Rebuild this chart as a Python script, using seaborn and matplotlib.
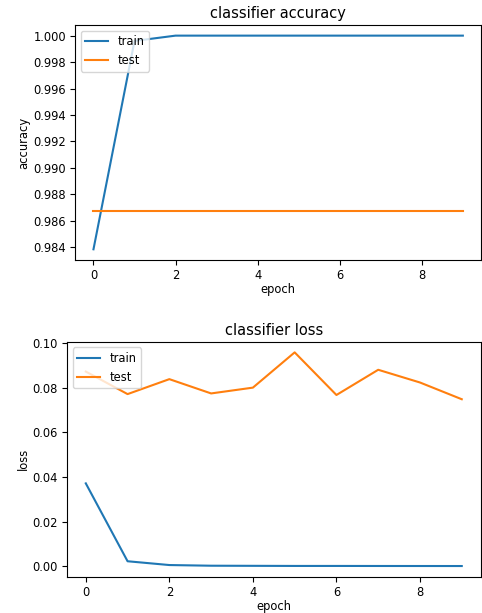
import numpy as np
import pandas as pd
import matplotlib
matplotlib.use("Agg")
import matplotlib.pyplot as plt
import seaborn as sns

# epochs and history values
epochs = list(range(10))
train_acc = [0.98384, 0.99960, 1.0, 1.0, 1.0, 1.0, 1.0, 1.0, 1.0, 1.0]
test_acc = [0.98675] * 10
train_loss = [0.0371, 0.0022, 0.0005, 0.0002, 0.00015, 0.0001, 0.0001, 0.00008, 0.00007, 0.00006]
test_loss = [0.0872, 0.0771, 0.0838, 0.0774, 0.0800, 0.0958, 0.0767, 0.0880, 0.0823, 0.0748]

plt.rcParams['font.family'] = ['DejaVu Sans']
fig = plt.figure(figsize=(4.82, 6.13), dpi=100)
ax1 = fig.add_axes([0.1556, 0.5759, 0.843, 0.3834])
ax2 = fig.add_axes([0.139, 0.0592, 0.858, 0.3834])

# accuracy
sns.lineplot(x=epochs, y=train_acc, ax=ax1, label="train", color="C0")
sns.lineplot(x=epochs, y=test_acc, ax=ax1, label="test", color="C1")
ax1.set_title("classifier accuracy", fontsize=10.5, pad=5)
ax1.set_ylabel("accuracy", fontsize=8.3, labelpad=2)
ax1.set_xlabel("epoch", fontsize=8.3, labelpad=1)
ax1.legend(loc="upper left", fontsize=8.3)

# loss
sns.lineplot(x=epochs, y=train_loss, ax=ax2, label="train", color="C0")
sns.lineplot(x=epochs, y=test_loss, ax=ax2, label="test", color="C1")
ax2.set_title("classifier loss", fontsize=10.5, pad=5)
ax2.set_ylabel("loss", fontsize=8.3, labelpad=2)
ax2.set_xlabel("epoch", fontsize=8.3, labelpad=1)
ax2.legend(loc="upper left", fontsize=8.3)

for ax in (ax1, ax2):
    ax.tick_params(labelsize=8.3, pad=3)

fig.savefig("out.png", dpi=100)
